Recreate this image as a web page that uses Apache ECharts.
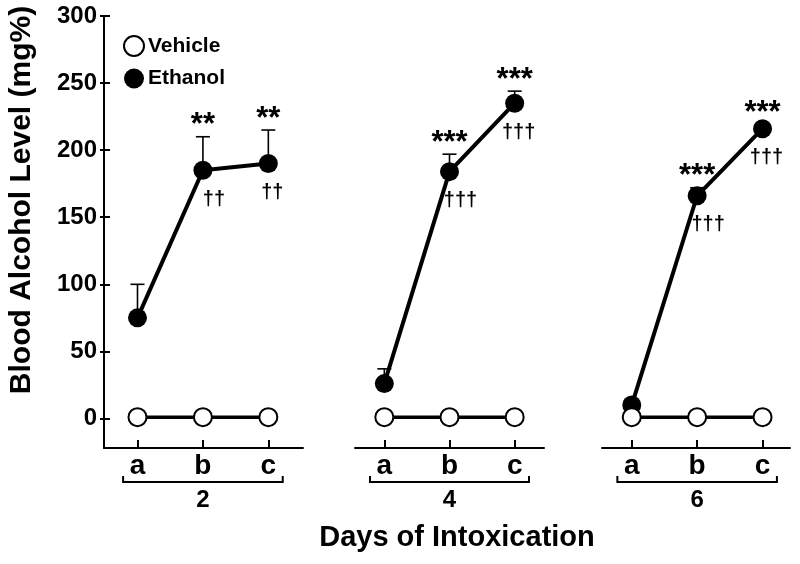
<!DOCTYPE html>
<html>
<head>
<meta charset="utf-8">
<script src="https://cdn.jsdelivr.net/npm/echarts@6/dist/echarts.min.js"></script>
<style>
html,body{margin:0;padding:0;background:#fff;}
#chart{width:800px;height:564px;}
</style>
</head>
<body>
<div id="chart"></div>
<script>
// ---- data ----
const dayGroups = ['2', '4', '6'];
const timePoints = ['a', 'b', 'c'];
const yTicks = [0, 50, 100, 150, 200, 250, 300];
const vehicleMean = [[1, 1, 1], [1, 1, 1], [1, 1, 1]];
const ethanolMean = [[75, 185, 190], [26, 184, 235], [10, 166, 216]];
const ethanolSEM = [[25, 25, 25], [11, 13, 9], [3, 6, 3]];
const sigVsVehicle = [['', '**', '**'], ['', '***', '***'], ['', '***', '***']];
const sigVsDayA = [['', '††', '††'], ['', '†††', '†††'], ['', '†††', '†††']];
const yTitle = 'Blood Alcohol Level (mg%)';
const xTitle = 'Days of Intoxication';

// ---- layout / style ----
const FONT = "'Liberation Sans', Arial, Helvetica, sans-serif";
const Y_MIN = -22, Y_MAX = 300;
const grids = [
  { left: 104, width: 199, min: -0.512, max: 2.53 },
  { left: 355, width: 189, min: -0.45, max: 2.45 },
  { left: 602, width: 188, min: -0.455, max: 2.42 }
];
const GRID_TOP = 16, GRID_H = 432;

const chart = echarts.init(document.getElementById('chart'), null, { renderer: 'canvas' });

const option = {
  animation: false,
  backgroundColor: '#fff',
  textStyle: { fontFamily: FONT, color: '#000' },
  legend: {
    left: 123, top: 35, orient: 'vertical', itemGap: 11, padding: 0,
    itemWidth: 20, itemHeight: 20, selectedMode: false,
    textStyle: { fontFamily: FONT, fontSize: 21, fontWeight: 'bold', color: '#000', padding: [0, 0, 0, -1] },
    data: [
      { name: 'Vehicle', icon: 'circle', itemStyle: { color: '#fff', borderColor: '#000', borderWidth: 2 } },
      { name: 'Ethanol', icon: 'circle', itemStyle: { color: '#000', borderWidth: 0 } }
    ]
  },
  grid: grids.map(g => ({ left: g.left, top: GRID_TOP, width: g.width, height: GRID_H })),
  xAxis: grids.map((g, i) => ({
    type: 'value', gridIndex: i, min: g.min, max: g.max,
    axisLine: { show: true, onZero: false, lineStyle: { color: '#000', width: 2 } },
    axisTick: { show: true, inside: true, length: 8, lineStyle: { color: '#000', width: 2 }, customValues: [0, 1, 2] },
    axisLabel: {
      show: true, customValues: [0, 1, 2], margin: 4,
      fontFamily: FONT, fontSize: 28, fontWeight: 'bold', color: '#000',
      formatter: v => timePoints[Math.round(v)]
    },
    splitLine: { show: false }
  })),
  yAxis: [
    {
      type: 'value', gridIndex: 0, min: Y_MIN, max: Y_MAX, position: 'left',
      axisLine: { show: true, onZero: false, lineStyle: { color: '#000', width: 2 } },
      axisTick: { show: true, inside: true, length: 6, lineStyle: { color: '#000', width: 2 }, customValues: yTicks },
      axisLabel: { show: true, customValues: yTicks, margin: 7, fontFamily: FONT, fontSize: 24, fontWeight: 'bold', color: '#000' },
      splitLine: { show: false }
    },
    {
      type: 'value', gridIndex: 0, min: Y_MIN, max: Y_MAX, position: 'left',
      axisLine: { show: false, onZero: false },
      axisTick: { show: true, inside: false, length: 4, lineStyle: { color: '#000', width: 2 }, customValues: yTicks },
      axisLabel: { show: false },
      splitLine: { show: false }
    },
    { type: 'value', gridIndex: 1, min: Y_MIN, max: Y_MAX, show: false },
    { type: 'value', gridIndex: 2, min: Y_MIN, max: Y_MAX, show: false }
  ],
  graphic: [
    {
      type: 'text', x: 457, y: 538,
      style: { text: xTitle, fill: '#000', font: 'bold 29px ' + FONT, textAlign: 'center', textVerticalAlign: 'middle' }
    },
    {
      type: 'text', x: 22, y: 200, rotation: Math.PI / 2,
      style: { text: yTitle, fill: '#000', font: 'bold 30px ' + FONT, textAlign: 'center', textVerticalAlign: 'middle' }
    }
  ],
  series: []
};

const yAxisIndexFor = i => (i === 0 ? 0 : i + 1);

dayGroups.forEach((day, gi) => {
  const yIdx = yAxisIndexFor(gi);
  // error bars + significance marks
  option.series.push({
    type: 'custom', xAxisIndex: gi, yAxisIndex: yIdx, z: 1, silent: true,
    data: timePoints.map((t, k) => [k, ethanolMean[gi][k], ethanolSEM[gi][k], gi]),
    renderItem: (params, api) => {
      const k = api.value(0), m = api.value(1), e = api.value(2), g = api.value(3);
      const p = api.coord([k, m]);
      const top = api.coord([k, m + e]);
      const children = [
        { type: 'line', shape: { x1: p[0], y1: p[1], x2: top[0], y2: top[1] }, style: { stroke: '#000', lineWidth: 1.6 } },
        { type: 'line', shape: { x1: top[0] - 7, y1: top[1], x2: top[0] + 7, y2: top[1] }, style: { stroke: '#000', lineWidth: 1.6 } }
      ];
      const s1 = sigVsVehicle[g][k];
      if (s1) children.push({ type: 'text', x: top[0], y: top[1] - 11,
        style: { text: s1, fill: '#000', font: 'bold 31px ' + FONT, textAlign: 'center', textVerticalAlign: 'middle' } });
      const s2 = sigVsDayA[g][k];
      if (s2) children.push({ type: 'text', x: p[0] + (k === 1 ? 11 : 4), y: p[1] + 29,
        style: { text: s2, fill: '#000', font: 'bold 20px ' + FONT, textAlign: 'center', textVerticalAlign: 'middle' } });
      return { type: 'group', children };
    }
  });
  // ethanol
  option.series.push({
    name: 'Ethanol', type: 'line', xAxisIndex: gi, yAxisIndex: yIdx, z: 2,
    data: ethanolMean[gi].map((v, k) => [k, v]),
    symbol: 'circle', symbolSize: 19,
    lineStyle: { color: '#000', width: 4 },
    itemStyle: { color: '#000', borderWidth: 0 }
  });
  // vehicle
  option.series.push({
    name: 'Vehicle', type: 'line', xAxisIndex: gi, yAxisIndex: yIdx, z: 3,
    data: vehicleMean[gi].map((v, k) => [k, v]),
    symbol: 'circle', symbolSize: 18,
    lineStyle: { color: '#000', width: 3.5 },
    itemStyle: { color: '#fff', borderColor: '#000', borderWidth: 2 }
  });
  // group bracket + day label
  option.series.push({
    type: 'custom', xAxisIndex: gi, yAxisIndex: yIdx, z: 1, silent: true,
    data: [[1, Y_MIN, gi]],
    renderItem: (params, api) => {
      const c = api.coord([api.value(0), api.value(1)]);
      const half = api.size([1.22, 0])[0];
      const y = c[1] + 34;
      return {
        type: 'group', children: [
          { type: 'polyline', shape: { points: [[c[0] - half, y - 6], [c[0] - half, y], [c[0] + half, y], [c[0] + half, y - 6]] },
            style: { stroke: '#000', lineWidth: 2, fill: null } },
          { type: 'text', x: c[0], y: c[1] + 52,
            style: { text: dayGroups[api.value(2)], fill: '#000', font: 'bold 24px ' + FONT, textAlign: 'center', textVerticalAlign: 'middle' } }
        ]
      };
    }
  });
});

chart.setOption(option);
</script>
</body>
</html>
